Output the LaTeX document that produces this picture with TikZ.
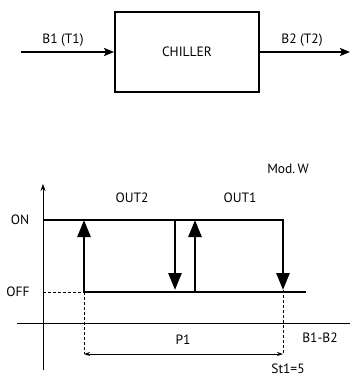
\documentclass[tikz,border=0pt]{standalone}
\usepackage{fontspec}
\setmainfont{PT Sans}
\usetikzlibrary{arrows.meta}
\begin{document}
\begin{tikzpicture}[x=1pt,y=-1pt,
  lbl/.style={font=\fontsize{13.5}{15}\selectfont, inner sep=0pt},
  thickln/.style={line width=2.3pt},
  bigarrow/.style={line width=2.6pt, -{Triangle[length=17pt,width=13pt]}},
  flow/.style={line width=2pt, -{Stealth[length=10pt,width=8pt,inset=2pt]}},
  thinln/.style={line width=0.8pt},
  dashln/.style={line width=0.8pt, dashed, dash pattern=on 3pt off 2pt}]
\useasboundingbox (0,0) rectangle (350,376);
% top block
\node[draw, line width=1.8pt, minimum width=144pt, minimum height=80pt, lbl] (ch) at (187,52) {CHILLER};
\coordinate (in) at (21,52);
\coordinate (out) at (350,52);
\draw[flow] (in) -- (ch.west);
\draw[flow] (ch.east) -- (out);
\node[lbl] (b1) at (63,40) {B1 (T1)};
\node[lbl] (b2) at (302,40) {B2 (T2)};
% graph axes
\coordinate (ytop) at (43,184);
\coordinate (ybot) at (43,370);
\coordinate (xl) at (17,323);
\coordinate (xr) at (350,323);
\draw[thinln, -{Stealth[length=7pt,width=5pt]}] (ybot) -- (ytop);
\draw[thinln] (xl) -- (xr);
\node[lbl] (modw) at (288,169) {Mod.\,W};
\node[lbl] (on) at (20,220) {ON};
\node[lbl] (off) at (18,292) {OFF};
\node[lbl] (out2) at (132,198) {OUT2};
\node[lbl] (out1) at (240,198) {OUT1};
\node[lbl] (p1) at (183,340) {P1};
\node[lbl] (b1b2) at (320,338) {B1-B2};
\node[lbl] (st) at (288,369) {St1=5};
% levels
\coordinate (onl) at (43,220);
\coordinate (onr) at (283,220);
\coordinate (offl) at (84,292);
\coordinate (offr) at (306,292);
\coordinate (offaxis) at (43,292);
\draw[thickln] (onl) -- (onr);
\draw[thickln] (offl) -- (offr);
\draw[dashln] (offaxis) -- (offl);
% hysteresis arrows
\coordinate (a1b) at (84,292);
\coordinate (a1t) at (84,220);
\draw[bigarrow] (a1b) -- (a1t);
\coordinate (a2t) at (175,219);
\coordinate (a2b) at (175,290);
\draw[bigarrow] (a2t) -- (a2b);
\coordinate (a3b) at (195,293);
\coordinate (a3t) at (195,220);
\draw[bigarrow] (a3b) -- (a3t);
\coordinate (a4t) at (283,219);
\coordinate (a4b) at (283,290);
\draw[bigarrow] (a4t) -- (a4b);
% dimension
\coordinate (d1) at (84,354);
\coordinate (d2) at (283,354);
\draw[dashln] (a1b) -- (d1);
\draw[dashln] (a4b) -- (d2);
\draw[thinln, {Stealth[length=6pt,width=4pt]}-{Stealth[length=6pt,width=4pt]}] (d1) -- (d2);
\end{tikzpicture}
\end{document}
